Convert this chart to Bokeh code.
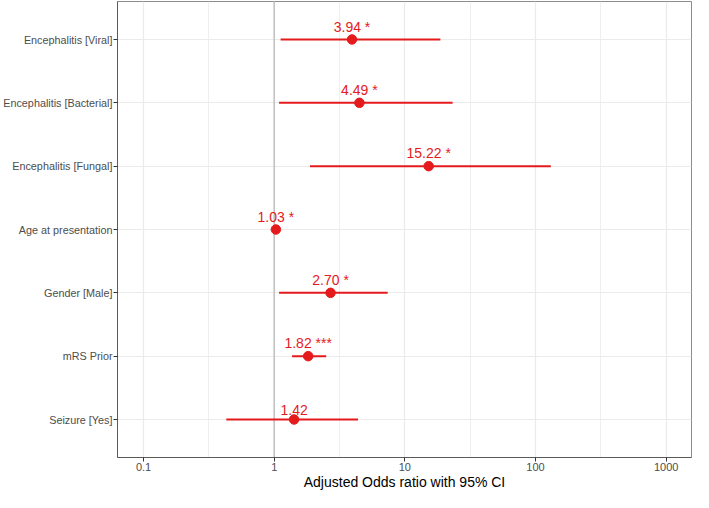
from bokeh.plotting import figure
from bokeh.models import Range1d, FixedTicker, Span, ColumnDataSource
from bokeh.embed import file_html
from bokeh.resources import INLINE
from bokeh.core.properties import value

# ---- data ----
categories = ["Encephalitis [Viral]", "Encephalitis [Bacterial]", "Encephalitis [Fungal]",
              "Age at presentation", "Gender [Male]", "mRS Prior", "Seizure [Yes]"]
odds = [3.94, 4.49, 15.22, 1.03, 2.70, 1.82, 1.42]
ci_low = [1.12, 1.09, 1.88, 1.01, 1.09, 1.37, 0.43]
ci_high = [18.7, 23.2, 131.0, 1.05, 7.39, 2.50, 4.38]
labels = ["3.94 *", "4.49 *", "15.22 *", "1.03 *", "2.70 *", "1.82 ***", "1.42"]
x_ticks = [0.1, 1, 10, 100, 1000]
x_tick_labels = ["0.1", "1", "10", "100", "1000"]
x_minor = [0.316, 3.16, 31.6, 316]

n = len(categories)
ypos = [n - i for i in range(n)]

src = ColumnDataSource(dict(cat=categories, y=ypos, est=odds, lo=ci_low, hi=ci_high, lab=labels))

RED = "#E41A1C"
p = figure(width=693, height=492, x_axis_type="log",
           x_range=Range1d(0.0632, 1563), y_range=Range1d(0.4, n + 0.6),
           output_backend="svg", toolbar_location=None,
           min_border_left=110, min_border_right=2, min_border_top=1, min_border_bottom=30)

p.background_fill_color = "white"
p.border_fill_color = "white"
p.outline_line_color = "#8C8C8C"
p.outline_line_width = 1

# grid
p.xgrid.grid_line_color = "#EBEBEB"
p.xgrid.grid_line_width = 1.2
p.xgrid.minor_grid_line_color = "#EBEBEB"
p.xgrid.minor_grid_line_width = 0.8
p.ygrid.grid_line_color = "#EBEBEB"
p.ygrid.grid_line_width = 1.2

# axes
p.xaxis.ticker = FixedTicker(ticks=x_ticks, minor_ticks=x_minor)
p.xaxis.major_label_overrides = {t: l for t, l in zip(x_ticks, x_tick_labels)}
p.yaxis.ticker = FixedTicker(ticks=ypos)
p.yaxis.major_label_overrides = {y: c for y, c in zip(ypos, categories)}

for ax in (p.xaxis[0], p.yaxis[0]):
    ax.axis_line_color = "#5A5A5A"
    ax.axis_line_width = 1
    ax.major_tick_line_color = "#333333"
    ax.major_tick_out = 4
    ax.major_tick_in = 0
    ax.minor_tick_line_color = None
    ax.major_label_text_color = "#4D4D4D"
    ax.major_label_text_font = "Liberation Sans"
    ax.major_label_text_font_size = "11px"
    ax.major_label_standoff = 2

p.yaxis.major_label_text_font_size = "10.8px"
p.yaxis.major_label_standoff = 1
p.xaxis.major_label_standoff = 1
p.xaxis.axis_label = "Adjusted Odds ratio with 95% CI"
p.xaxis.axis_label_text_font = "Liberation Sans"
p.xaxis.axis_label_text_font_style = "normal"
p.xaxis.axis_label_text_font_size = "14px"
p.xaxis.axis_label_text_color = "black"
p.xaxis.axis_label_standoff = 0

# reference line at 1
p.add_layout(Span(location=1, dimension="height", line_color="#C4C4C4", line_width=1.6, level="underlay"))

# CI bars and points
p.segment(x0="lo", x1="hi", y0="y", y1="y", source=src, line_color=RED, line_width=2)
p.scatter(x="est", y="y", source=src, size=9.5, fill_color=RED, line_color=RED)
p.text(x="est", y="y", text="lab", source=src, text_color=RED,
       text_font=value("Liberation Sans"), text_font_size="14px",
       text_align="center", text_baseline="bottom", y_offset=-5)

open("out.html", "w").write(file_html(p, INLINE))
